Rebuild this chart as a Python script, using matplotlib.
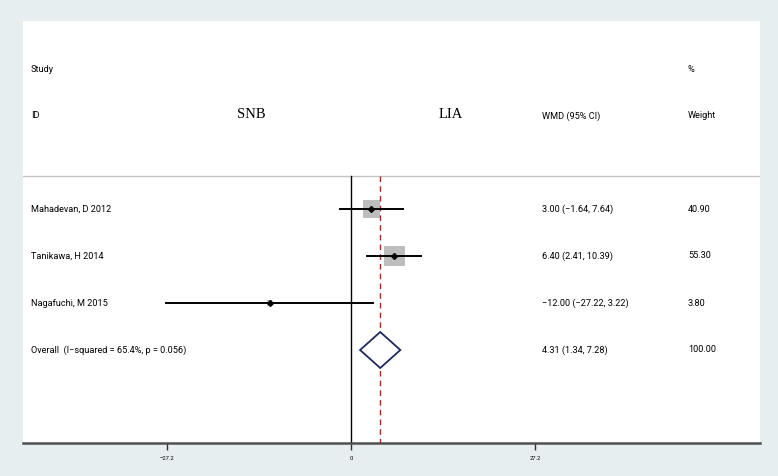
import matplotlib
matplotlib.use("Agg")
import matplotlib.pyplot as plt
from matplotlib.patches import Polygon

# ---- data ----
studies = ["Mahadevan, D 2012", "Tanikawa, H 2014", "Nagafuchi, M 2015"]
est = [3.00, 6.40, -12.00]
lo = [-1.64, 2.41, -27.22]
hi = [7.64, 10.39, 3.22]
weights = [40.90, 55.30, 3.80]
overall_label = "Overall  (I\u2212squared = 65.4%, p = 0.056)"
overall_est, overall_lo, overall_hi = 4.31, 1.34, 7.28
overall_weight = 100.00
xticks = [-27.2, 0, 27.2]
xticklabels = ["\u221227.2", "0", "27.2"]

def fmt(v):
    s = f"{v:.2f}"
    return s.replace("-", "\u2212")

BG = "#e7eef0"
fig = plt.figure(figsize=(7.78, 4.76), dpi=100, facecolor=BG)
W, H = 778, 476
left_px, right_px, top_px, bot_px = 23, 760, 21, 443
ax = fig.add_axes([left_px / W, (H - bot_px) / H, (right_px - left_px) / W, (bot_px - top_px) / H])
ax.set_facecolor("white")

scale = 6.78  # px per unit
x0 = 351
ax.set_xlim((left_px - x0) / scale, (right_px - x0) / scale)
# rows: 1..4, pixel y = 209 + (r-1)*47
ax.set_ylim(1 + (bot_px - 209) / 47, 1 + (top_px - 209) / 47)

def px2x(px):
    return (px - x0) / scale

def py2r(py):
    return 1 + (py - 209) / 47

font = ["Roboto", "DejaVu Sans"]
fs = 6.6
line_top = py2r(176)
ybot = ax.get_ylim()[0]

# header line
ax.plot([ax.get_xlim()[0], ax.get_xlim()[1]], [line_top, line_top], color="#c4c4c4", lw=1, zorder=1)
# null line and overall dashed line
ax.plot([0, 0], [line_top, ybot], color="black", lw=1, zorder=2)
ax.plot([overall_est, overall_est], [line_top, ybot], color="#b22222", lw=1, ls=(0, (4, 3)), zorder=4)

# headers
ax.text(px2x(31), py2r(70), "Study", fontsize=fs, family=font, va="center", ha="left")
ax.text(px2x(31), py2r(116), "ID", fontsize=fs, family=font, va="center", ha="left")
ax.text(px2x(251), py2r(115), "SNB", fontsize=10.5, family=["Liberation Serif"], va="center", ha="center")
ax.text(px2x(451), py2r(115), "LIA", fontsize=10.5, family=["Liberation Serif"], va="center", ha="center")
ax.text(px2x(542), py2r(116), "WMD (95% CI)", fontsize=fs, family=font, va="center", ha="left")
ax.text(px2x(688), py2r(70), "%", fontsize=fs, family=font, va="center", ha="left")
ax.text(px2x(688), py2r(116), "Weight", fontsize=fs, family=font, va="center", ha="left")

rows = list(range(1, len(studies) + 1))
c = 213 / 55.3
for r, name, e, l, h, w in zip(rows, studies, est, lo, hi, weights):
    ax.scatter([e], [r], s=w * c, marker="s", color="#bdbdbd", edgecolors="none", zorder=3)
    ax.plot([l, h], [r, r], color="black", lw=1.4, zorder=5)
    ax.plot([e], [r], marker="D", color="black", ms=3, zorder=6)
    ax.text(px2x(31), r, name, fontsize=fs, family=font, va="center", ha="left")
    ax.text(px2x(542), r, f"{fmt(e)} ({fmt(l)}, {fmt(h)})", fontsize=fs, family=font, va="center", ha="left")
    ax.text(px2x(688), r, f"{w:.2f}", fontsize=fs, family=font, va="center", ha="left")

ro = len(studies) + 1
hd = 18 / 47
diamond = Polygon([[overall_lo, ro], [overall_est, ro - hd], [overall_hi, ro], [overall_est, ro + hd]],
                  closed=True, facecolor="white", edgecolor="#1f2a5c", lw=1.3, zorder=5)
ax.add_patch(diamond)
ax.text(px2x(31), ro, overall_label, fontsize=fs, family=font, va="center", ha="left")
ax.text(px2x(542), ro, f"{fmt(overall_est)} ({fmt(overall_lo)}, {fmt(overall_hi)})", fontsize=fs, family=font, va="center", ha="left")
ax.text(px2x(688), ro, f"{overall_weight:.2f}", fontsize=fs, family=font, va="center", ha="left")

for s in ["top", "left", "right"]:
    ax.spines[s].set_visible(False)
ax.spines["bottom"].set_color("#505050")
ax.spines["bottom"].set_linewidth(1.8)
ax.set_yticks([])
ax.set_xticks(xticks)
ax.set_xticklabels(xticklabels, fontsize=4.2, family=font)
ax.tick_params(axis="x", length=5, width=1, color="#303030", pad=4)

fig.savefig("out.png", dpi=100, facecolor=BG)
